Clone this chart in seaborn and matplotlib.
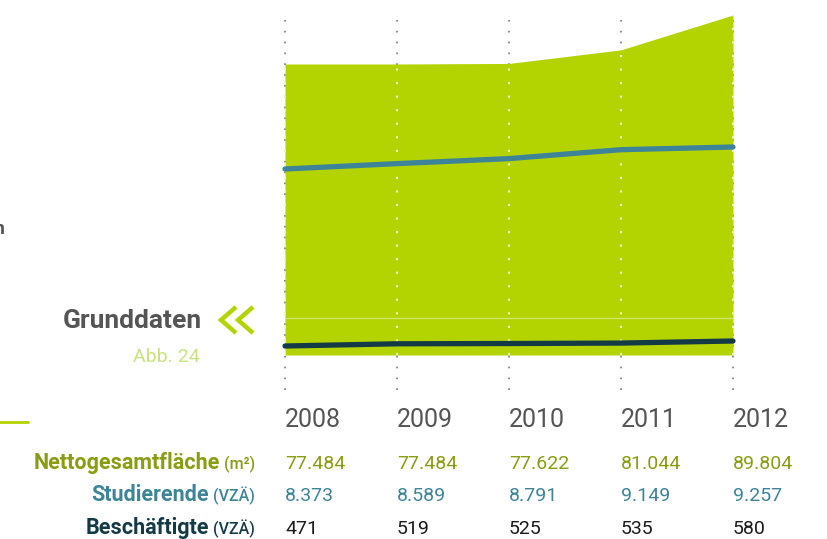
import matplotlib
matplotlib.use("Agg")
import matplotlib.pyplot as plt
from matplotlib.lines import Line2D
import seaborn as sns

# data
years = [2008, 2009, 2010, 2011, 2012]
flaeche = [77484, 77484, 77622, 81044, 89804]
studierende = [8373, 8589, 8791, 9149, 9257]
beschaeftigte = [471, 519, 525, 535, 580]

row_labels = ["Nettogesamtfläche", "Studierende", "Beschäftigte"]
row_units = ["(m²)", "(VZÄ)", "(VZÄ)"]

GREEN = "#b3d400"
OLIVE = "#8a9c12"
BLUE = "#3d8499"
DARK = "#143a45"
GREY = "#555555"

sns.set_theme(style="white")
plt.rcParams["font.family"] = ["Roboto", "DejaVu Sans"]

W, H = 827, 539
fig = plt.figure(figsize=(W / 100, H / 100), dpi=100)


def fx(x):
    return x / W


def fy(y):
    return 1 - y / H


def axes_px(left, top, right, bottom):
    return fig.add_axes([fx(left), fy(bottom), (right - left) / W, (bottom - top) / H])


def anchored_ylim(ax, v1, p1, v2, p2, top, bottom):
    # map values to pixel rows so the series sits where it does in the original
    k = (v2 - v1) / (p2 - p1)
    ax.set_ylim(v1 + (bottom - p1) * k, v1 + (top - p1) * k)


X0, X1 = 285, 733
DOTS = (0, (1, 5.5))

# dotted grid behind everything
bg = axes_px(X0, 13, X1, 390)
bg.set_xlim(years[0], years[-1])
bg.set_ylim(0, 1)
for yr in years:
    bg.axvline(yr, color="#777777", linestyle=DOTS, linewidth=1.2, clip_on=False)
bg.axis("off")

# area
ax = axes_px(X0, 15, X1, 355)
ax.patch.set_alpha(0)
ax.set_xlim(years[0], years[-1])
anchored_ylim(ax, flaeche[0], 64, flaeche[-1], 15, 15, 355)
base = ax.get_ylim()[0]
ax.fill_between(years, flaeche, base, color=GREEN, linewidth=0, zorder=1)
for yr, v in zip(years, flaeche):
    ax.plot([yr, yr], [base, v], color="#eef5cc", linestyle=DOTS, linewidth=1.5,
            zorder=2, clip_on=False)
ax.axhline(base + (ax.get_ylim()[1] - base) * (355 - 318) / 340, color="#cfe46a", linewidth=1, zorder=2)
ax.axis("off")

# Studierende
ax2 = ax.twinx()
ax2.set_xlim(years[0], years[-1])
anchored_ylim(ax2, studierende[0], 169, studierende[-1], 147, 15, 355)
sns.lineplot(x=years, y=studierende, ax=ax2, color=BLUE, linewidth=3.8, solid_capstyle="round", clip_on=False)
ax2.axis("off")

# Beschäftigte
ax3 = ax.twinx()
ax3.set_xlim(years[0], years[-1])
anchored_ylim(ax3, beschaeftigte[0], 346, beschaeftigte[-1], 341, 15, 355)
sns.lineplot(x=years, y=beschaeftigte, ax=ax3, color=DARK, linewidth=3.8, solid_capstyle="round", clip_on=False)
ax3.axis("off")

# year labels and table
tx = fig.add_axes([fx(X0), 0, (X1 - X0) / W, 1])
tx.set_xlim(years[0], years[-1])
tx.set_ylim(H, 0)
tx.axis("off")
for yr in years:
    tx.text(yr, 427, str(yr), ha="left", va="baseline", fontsize=18, color=GREY)


def de(v):
    return f"{v:,}".replace(",", ".")


rows = [flaeche, studierende, beschaeftigte]
row_colors = [OLIVE, BLUE, "#1a1a1a"]
label_colors = [OLIVE, BLUE, DARK]
baselines = [469, 501, 534]
for vals, c, yb in zip(rows, row_colors, baselines):
    for yr, v in zip(years, vals):
        tx.text(yr, yb, de(v), ha="left", va="baseline", fontsize=14, color=c)

renderer = fig.canvas.get_renderer()
for lab, unit, c, yb in zip(row_labels, row_units, label_colors, baselines):
    t = fig.text(fx(255), fy(yb), unit, ha="right", va="baseline", fontsize=11.5, color=c,
                 fontweight="medium")
    w = t.get_window_extent(renderer).width
    fig.text(fx(255 - w - 4), fy(yb), lab, ha="right", va="baseline", fontsize=15.5,
             fontweight="bold", color=c)

# heading on the left
fig.text(fx(202), fy(328), "Grunddaten", ha="right", va="baseline", fontsize=19,
         fontweight="bold", color=GREY)
fig.text(fx(200), fy(362), "Abb. 24", ha="right", va="baseline", fontsize=14, color="#c8e37e")
for x0 in (236, 253):
    fig.add_artist(Line2D([fx(x0), fx(x0 - 15), fx(x0)], [fy(307), fy(320), fy(333)],
                          color=GREEN, linewidth=3.2, solid_capstyle="butt", solid_joinstyle="miter"))
fig.add_artist(Line2D([0, fx(28)], [fy(422), fy(422)], color=GREEN, linewidth=2))
fig.text(fx(5), fy(234), "n", ha="right", va="baseline", fontsize=14, fontweight="bold", color=GREY)

fig.savefig("out.png", dpi=100)
